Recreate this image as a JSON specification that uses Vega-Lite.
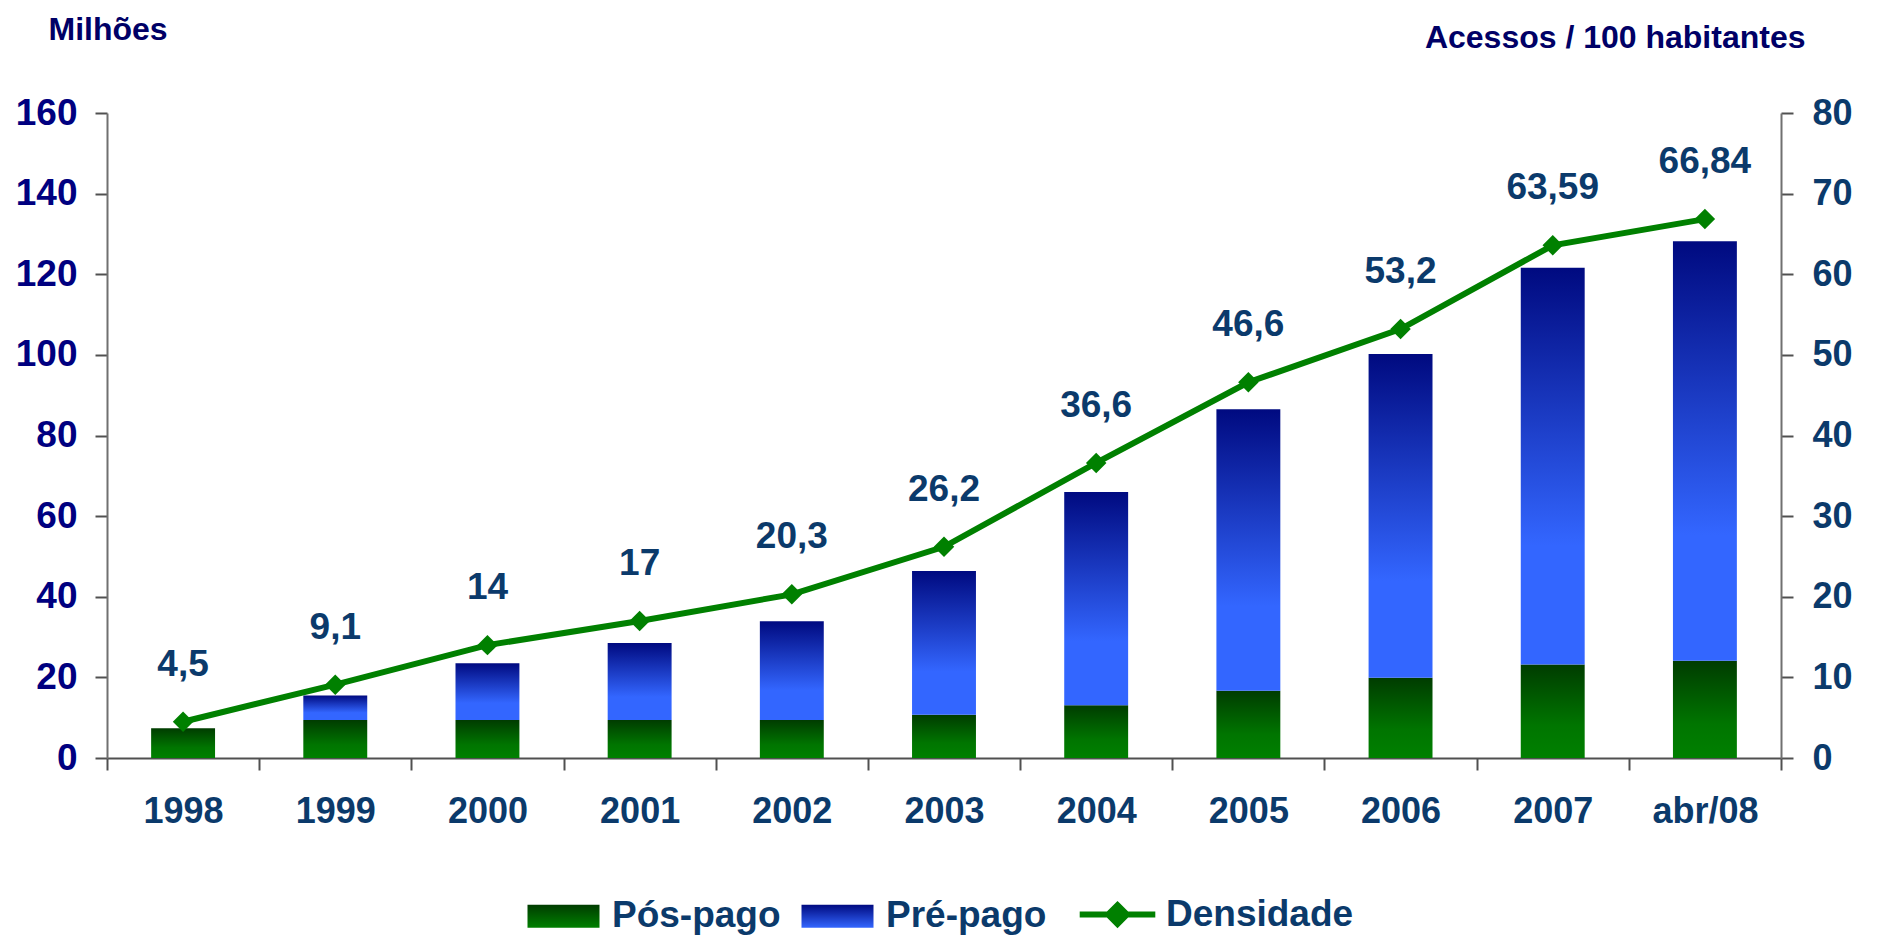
{
  "$schema": "https://vega.github.io/schema/vega-lite/v6.json",
  "autosize": {"type": "none"},
  "width": 1674,
  "height": 645,
  "padding": {"left": 107, "top": 113, "right": 96, "bottom": 180},
  "background": "white",
  "config": {
    "view": {"stroke": null},
    "font": "Liberation Sans",
    "locale": {"number": {"decimal": ",", "thousands": ".", "grouping": [3], "currency": ["R$", ""]}},
    "axis": {"grid": false, "domainColor": "#707070", "domainWidth": 2, "tickColor": "#505050", "tickWidth": 2, "tickSize": 12, "labelFont": "Liberation Sans", "labelFontWeight": "bold", "titleFont": "Liberation Sans", "titleFontWeight": "bold"}
  },
  "datasets": {
    "barras": [
      {"periodo": "1998", "tipo": "Pós-pago", "milhoes": 7.4},
      {"periodo": "1998", "tipo": "Pré-pago", "milhoes": 0},
      {"periodo": "1999", "tipo": "Pós-pago", "milhoes": 9.4},
      {"periodo": "1999", "tipo": "Pré-pago", "milhoes": 6.1},
      {"periodo": "2000", "tipo": "Pós-pago", "milhoes": 9.4},
      {"periodo": "2000", "tipo": "Pré-pago", "milhoes": 14.1},
      {"periodo": "2001", "tipo": "Pós-pago", "milhoes": 9.4},
      {"periodo": "2001", "tipo": "Pré-pago", "milhoes": 19.1},
      {"periodo": "2002", "tipo": "Pós-pago", "milhoes": 9.4},
      {"periodo": "2002", "tipo": "Pré-pago", "milhoes": 24.5},
      {"periodo": "2003", "tipo": "Pós-pago", "milhoes": 10.7},
      {"periodo": "2003", "tipo": "Pré-pago", "milhoes": 35.7},
      {"periodo": "2004", "tipo": "Pós-pago", "milhoes": 13.1},
      {"periodo": "2004", "tipo": "Pré-pago", "milhoes": 52.9},
      {"periodo": "2005", "tipo": "Pós-pago", "milhoes": 16.7},
      {"periodo": "2005", "tipo": "Pré-pago", "milhoes": 69.8},
      {"periodo": "2006", "tipo": "Pós-pago", "milhoes": 19.9},
      {"periodo": "2006", "tipo": "Pré-pago", "milhoes": 80.3},
      {"periodo": "2007", "tipo": "Pós-pago", "milhoes": 23.2},
      {"periodo": "2007", "tipo": "Pré-pago", "milhoes": 98.4},
      {"periodo": "abr/08", "tipo": "Pós-pago", "milhoes": 24.1},
      {"periodo": "abr/08", "tipo": "Pré-pago", "milhoes": 104.1}
    ],
    "densidade": [
      {"periodo": "1998", "densidade": 4.5},
      {"periodo": "1999", "densidade": 9.1},
      {"periodo": "2000", "densidade": 14},
      {"periodo": "2001", "densidade": 17},
      {"periodo": "2002", "densidade": 20.3},
      {"periodo": "2003", "densidade": 26.2},
      {"periodo": "2004", "densidade": 36.6},
      {"periodo": "2005", "densidade": 46.6},
      {"periodo": "2006", "densidade": 53.2},
      {"periodo": "2007", "densidade": 63.59},
      {"periodo": "abr/08", "densidade": 66.84}
    ]
  },
  "encoding": {
    "x": {
      "field": "periodo", "type": "nominal", "sort": null,
      "scale": {"paddingInner": 0, "paddingOuter": 0},
      "axis": {"title": null, "tickBand": "extent", "labelAngle": 0, "labelFontSize": 36, "labelColor": "#0B3A6B", "labelPadding": 24, "domainColor": "#505050"}
    }
  },
  "layer": [
    {
      "data": {"name": "barras"},
      "transform": [
        {"stack": "milhoes", "groupby": ["periodo"], "sort": [{"field": "tipo", "order": "descending"}], "as": ["base", "topo"]}
      ],
      "encoding": {
        "y": {
          "field": "topo", "type": "quantitative",
          "scale": {"domain": [0, 160], "nice": false},
          "axis": {"title": "Milhões", "titleAngle": 0, "titleX": -59, "titleY": -84, "titleAlign": "left", "titleBaseline": "middle", "titleFontSize": 32, "titleColor": "#000066", "values": [0, 20, 40, 60, 80, 100, 120, 140, 160], "labelFontSize": 37, "labelColor": "#000080", "labelPadding": 18}
        }
      },
      "layer": [
        {
          "transform": [{"filter": "datum.tipo === 'Pós-pago'"}],
          "mark": {"type": "bar", "width": {"band": 0.42}, "color": {"gradient": "linear", "x1": 0, "y1": 0, "x2": 0, "y2": 1, "stops": [{"offset": 0, "color": "#003C00"}, {"offset": 0.65, "color": "#007500"}, {"offset": 1, "color": "#008000"}]}},
          "encoding": {"y2": {"field": "base"}}
        },
        {
          "transform": [{"filter": "datum.tipo === 'Pré-pago'"}],
          "mark": {"type": "bar", "width": {"band": 0.42}, "color": {"gradient": "linear", "x1": 0, "y1": 0, "x2": 0, "y2": 1, "stops": [{"offset": 0, "color": "#000A80"}, {"offset": 0.7, "color": "#3366FF"}, {"offset": 1, "color": "#3366FF"}]}},
          "encoding": {"y2": {"field": "base"}}
        },
        {
          "mark": {"type": "point", "opacity": 0, "filled": true},
          "encoding": {
            "color": {
              "field": "tipo", "type": "nominal",
              "scale": {
                "domain": ["Pós-pago", "Pré-pago", "Densidade"],
                "range": [
                  {"expr": "{gradient: 'linear', x1: 0, y1: 0, x2: 0, y2: 1, stops: [{offset: 0, color: '#003C00'}, {offset: 1, color: '#008000'}]}"},
                  {"expr": "{gradient: 'linear', x1: 0, y1: 0, x2: 0, y2: 1, stops: [{offset: 0, color: '#000A80'}, {offset: 1, color: '#3366FF'}]}"},
                  "#008000"
                ]
              },
              "legend": {
                "title": null, "orient": "none", "legendX": 438, "legendY": 783, "direction": "horizontal",
                "padding": 0, "symbolSize": 5184, "labelOffset": 30, "columnPadding": 20,
                "labelFont": "Liberation Sans", "labelFontWeight": "bold", "labelFontSize": 37, "labelColor": "#0B3A6B", "labelLimit": 400,
                "encode": {"symbols": {"update": {
                  "shape": {"signal": "datum.value === 'Densidade' ? 'M-1.05,0L1.05,0M0,-0.26L0.26,0L0,0.26L-0.26,0Z' : 'M-1,-0.32L1,-0.32L1,0.32L-1,0.32Z'"},
                  "stroke": {"signal": "datum.value === 'Densidade' ? '#008000' : 'transparent'"},
                  "strokeWidth": {"signal": "datum.value === 'Densidade' ? 6 : 0"},
                  "opacity": {"value": 1}
                }}}
              }
            }
          }
        }
      ]
    },
    {
      "data": {"name": "densidade"},
      "encoding": {
        "y": {
          "field": "densidade", "type": "quantitative",
          "scale": {"domain": [0, 80], "nice": false},
          "axis": {"orient": "right", "title": "Acessos / 100 habitantes", "titleAngle": 0, "titleX": 24, "titleY": -76, "titleAlign": "right", "titleBaseline": "middle", "titleFontSize": 32, "titleColor": "#000066", "values": [0, 10, 20, 30, 40, 50, 60, 70, 80], "labelFontSize": 36, "labelColor": "#0B3A6B", "labelPadding": 19}
        }
      },
      "layer": [
        {
          "mark": {"type": "line", "color": "#008000", "strokeWidth": 6}
        },
        {
          "mark": {"type": "point", "shape": "diamond", "filled": true, "size": 420, "color": "#008000", "opacity": 1}
        },
        {
          "mark": {"type": "text", "dy": -57, "font": "Liberation Sans", "fontWeight": "bold", "fontSize": 37, "color": "#0B3A6B", "baseline": "middle", "align": "center"},
          "encoding": {
            "text": {"field": "densidade", "type": "quantitative", "format": "~g"}
          }
        }
      ]
    }
  ],
  "resolve": {"scale": {"y": "independent"}}
}
